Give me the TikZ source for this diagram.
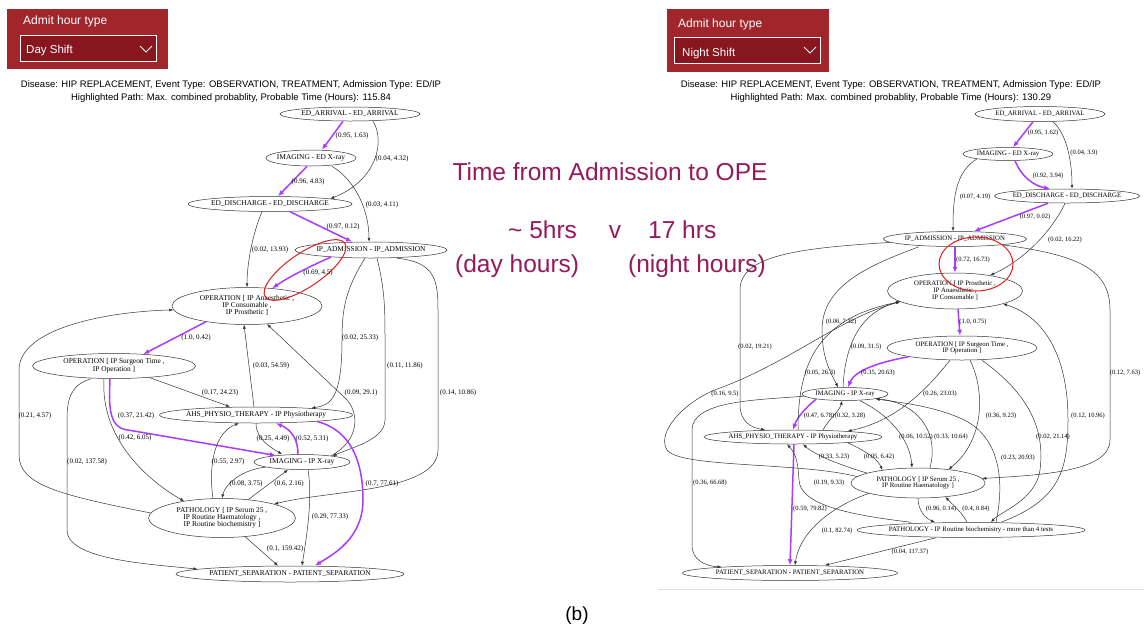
\documentclass[tikz,border=0pt]{standalone}
\usepackage{fontspec}
\setmainfont{Liberation Serif}
\setsansfont{Liberation Sans}
\usetikzlibrary{arrows.meta,shapes.geometric}
\definecolor{purp}{RGB}{170,60,255}
\definecolor{hdr}{RGB}{160,38,44}
\definecolor{hdrin}{RGB}{135,22,30}
\definecolor{mag}{RGB}{150,25,90}
\definecolor{ring}{RGB}{225,30,30}
\newcommand\gfl{\fontsize{7.4}{8}\selectfont}
\newcommand\gfr{\fontsize{6.8}{7.4}\selectfont}
\newcommand\lfl{\fontsize{7}{8}\selectfont}
\newcommand\lfr{\fontsize{6.5}{7}\selectfont}
\newcommand\nt[1]{\makebox[0pt]{\begin{tabular}{@{}c@{}}#1\end{tabular}}}
\renewcommand{\arraystretch}{0.85}
\begin{document}
\begin{tikzpicture}[x=1pt,y=-1pt,
 gnl/.style={ellipse, draw=black!80, line width=0.5pt, inner sep=0pt, font=\gfl, fill=white},
 gnr/.style={ellipse, draw=black!80, line width=0.5pt, inner sep=0pt, font=\gfr, fill=white},
 e/.style={draw=black!80, line width=0.5pt, -{Latex[length=4pt,width=3pt]}},
 pe/.style={draw=purp, line width=1.5pt, -{Latex[length=6pt,width=5pt]}},
 labl/.style={font=\lfl, inner sep=0pt},
 labr/.style={font=\lfr, inner sep=0pt},
 hdtxt/.style={anchor=base west, inner sep=0pt, text=white, font=\sffamily\fontsize{12}{14}\selectfont},
 seltxt/.style={anchor=base west, inner sep=0pt, text=white, font=\sffamily\fontsize{11.5}{13}\selectfont},
 ttl/.style={anchor=base, inner sep=0pt, font=\sffamily\fontsize{9.5}{11}\selectfont},
 big/.style={inner sep=0pt, text=mag, font=\sffamily\fontsize{24.5}{28}\selectfont},
 redring/.style={draw=ring, line width=1pt, ellipse, inner sep=0pt}
]
\useasboundingbox (0,0) rectangle (1144,633);
\fill[white] (0,0) rectangle (1144,633);

% ---------- headers ----------
\fill[hdr] (7,9) rectangle (168,69);
\draw[white, line width=0.8pt, fill=hdrin] (20,35) rectangle (156,61);
\node[hdtxt] (hlA) at (23,24) {Admit hour type};
\node[seltxt] (hlB) at (26,53) {Day Shift};
\draw[white, line width=0.8pt] (140,46) -- (146,52) -- (152,46);

\fill[hdr] (667,9) rectangle (829,72);
\draw[white, line width=0.8pt, fill=hdrin] (674,37) rectangle (820,63);
\node[hdtxt] (hrA) at (678,27) {Admit hour type};
\node[seltxt] (hrB) at (682,56) {Night Shift};
\draw[white, line width=0.8pt] (804,47) -- (810,53) -- (816,47);

\node[ttl] (tl1) at (231,87) {Disease: HIP REPLACEMENT, Event Type: OBSERVATION, TREATMENT, Admission Type: ED/IP};
\node[ttl] (tl2) at (231,100) {Highlighted Path: Max. combined probablity, Probable Time (Hours): 115.84};
\node[ttl] (tr1) at (891,87) {Disease: HIP REPLACEMENT, Event Type: OBSERVATION, TREATMENT, Admission Type: ED/IP};
\node[ttl] (tr2) at (891,100) {Highlighted Path: Max. combined probablity, Probable Time (Hours): 130.29};

% ---------- middle text ----------
\node[big, anchor=base] (m1) at (610,180) {Time from Admission to OPE};
\node[big, anchor=base west] (m2) at (508,238) {\textasciitilde{} 5hrs};
\node[big, anchor=base] (m3) at (615,238) {v};
\node[big, anchor=base west] (m4) at (648,238) {17 hrs};
\node[big, anchor=base west] (m5) at (455,272) {(day hours)};
\node[big, anchor=base west] (m6) at (628,272) {(night hours)};
\node[anchor=base, inner sep=0pt, font=\sffamily\fontsize{19}{22}\selectfont] (cap) at (577,620) {(b)};

\draw[gray!25, line width=1pt] (658,589) -- (1144,589);

% ---------- left graph nodes ----------
\node[gnl, minimum width=140, minimum height=14] (lA) at (350,114) {\nt{ED\_ARRIVAL - ED\_ARRIVAL}};
\node[gnl, minimum width=90, minimum height=16] (lB) at (311,158) {\nt{IMAGING - ED X-ray}};
\node[gnl, minimum width=164, minimum height=15] (lC) at (270,204) {\nt{ED\_DISCHARGE - ED\_DISCHARGE}};
\node[gnl, minimum width=152, minimum height=16] (lD) at (371,250) {\nt{IP\_ADMISSION - IP\_ADMISSION}};
\node[gnl, minimum width=150, minimum height=37] (lE) at (247,306) {\nt{OPERATION [ IP Anaesthetic ,\\ IP Consumable ,\\ IP Prosthetic ]}};
\node[gnl, minimum width=163, minimum height=25] (lF) at (114,366) {\nt{OPERATION [ IP Surgeon Time ,\\ IP Operation ]}};
\node[gnl, minimum width=193, minimum height=16] (lG) at (256,415) {\nt{AHS\_PHYSIO\_THERAPY - IP Physiotherapy}};
\node[gnl, minimum width=96, minimum height=15] (lH) at (302,462) {\nt{IMAGING - IP X-ray}};
\node[gnl, minimum width=147, minimum height=39] (lI) at (222,518) {\nt{PATHOLOGY [ IP Serum 25 ,\\ IP Routine Haematology ,\\ IP Routine biochemistry ]}};
\node[gnl, minimum width=228, minimum height=16] (lJ) at (290,574) {\nt{PATIENT\_SEPARATION - PATIENT\_SEPARATION}};

% ---------- left graph edges ----------
\draw[pe] ([xshift=-7]lA.south) -- ([xshift=11]lB.north);
\draw[e] ([xshift=23]lA.south) .. controls (385,140) and (378,180) .. (lC.5);
\draw[pe] ([xshift=-4]lB.south) -- ([xshift=8]lC.north);
\draw[e] ([xshift=21]lB.south) .. controls (355,180) and (369,210) .. ([xshift=-2]lD.north);
\draw[pe] ([xshift=20]lC.south) -- ([xshift=-19]lD.north);
\draw[e] ([xshift=-8]lC.south) .. controls (252,235) and (247,265) .. (lE.north);
\draw[pe] (lD.190) .. controls (315,264) and (290,276) .. (lE.35);
\draw[pe] (lE.201) -- (lF.22);
\draw[e] (lF.342) -- ([xshift=-26]lG.north);
\draw[pe] ([xshift=-4]lF.south) .. controls (109,405) and (108,428) .. (128,430) -- (lH.166);
\draw[e] ([xshift=-10]lF.south) .. controls (100,440) and (150,482) .. (lI.156);
\draw[e] ([xshift=-23]lF.south) .. controls (70,385) and (67,400) .. (67,420) -- (67,530) .. controls (67,560) and (150,564) .. (lJ.177);
\draw[e] (lI.176) .. controls (60,495) and (19,485) .. (19,455) -- (19,370) .. controls (19,330) and (100,312) .. (lE.183);
\draw[e] ([xshift=-2]lG.north) -- ([xshift=-3]lE.south);
\draw[e] (lH.12) .. controls (360,440) and (360,412) .. (345,398) -- (lE.318);
\draw[e] ([xshift=-6]lD.south) .. controls (345,290) and (342,310) .. (342,340) .. controls (342,400) and (330,405) .. (lG.7);
\draw[e] ([xshift=6]lD.south) .. controls (385,290) and (385,310) .. (385,340) -- (385,420) .. controls (385,440) and (350,448) .. (lH.11);
\draw[e] ([xshift=26]lD.south) .. controls (435,262) and (438,280) .. (438,310) -- (438,450) .. controls (438,492) and (330,490) .. (lI.north east);
\draw[pe] (lG.354) .. controls (350,430) and (363,460) .. (363,500) .. controls (363,540) and (330,556) .. ([xshift=25]lJ.north);
\draw[pe] ([xshift=-4]lH.north) .. controls (298,440) and (292,430) .. ([xshift=20]lG.south);
\draw[e] (lG.south) .. controls (256,440) and (272,448) .. ([xshift=-20]lH.north);
\draw[e] ([xshift=-9]lI.north) .. controls (208,465) and (215,432) .. ([xshift=-17]lG.south);
\draw[e] (lH.188) .. controls (240,470) and (225,485) .. (lI.north);
\draw[e] (lI.35) -- ([xshift=-14]lH.south);
\draw[e] ([xshift=6]lH.south) .. controls (313,500) and (306,540) .. ([xshift=12]lJ.north);
\draw[e] (lI.321) -- ([xshift=-12]lJ.north);

\node[redring, minimum width=96, minimum height=34, rotate=34] (ringL) at (305,270) {};

% ---------- left labels ----------
\node[labl] (ll1) at (352,136) {(0.95, 1.63)};
\node[labl] (ll2) at (392,159) {(0.04, 4.32)};
\node[labl] (ll3) at (308,182) {(0.96, 4.83)};
\node[labl] (ll4) at (382,205) {(0.03, 4.11)};
\node[labl] (ll5) at (343,227) {(0.97, 0.12)};
\node[labl] (ll6) at (270,250) {(0.02, 13.93)};
\node[labl] (ll7) at (318,273) {(0.69, 4.5)};
\node[labl] (ll8) at (196,338) {(1.0, 0.42)};
\node[labl] (ll9) at (220,393) {(0.17, 24.23)};
\node[labl] (ll10) at (136,416) {(0.37, 21.42)};
\node[labl] (ll11) at (135,438) {(0.42, 6.05)};
\node[labl] (ll12) at (87,462) {(0.02, 137.58)};
\node[labl] (ll13) at (35,416) {(0.21, 4.57)};
\node[labl] (ll14) at (271,366) {(0.03, 54.59)};
\node[labl] (ll15) at (361,393) {(0.09, 29.1)};
\node[labl] (ll16) at (360,338) {(0.02, 25.33)};
\node[labl] (ll17) at (405,366) {(0.11, 11.86)};
\node[labl] (ll18) at (458,393) {(0.14, 10.86)};
\node[labl] (ll19) at (382,484) {(0.7, 77.61)};
\node[labl] (ll20) at (312,439) {(0.52, 5.31)};
\node[labl] (ll21) at (273,439) {(0.25, 4.49)};
\node[labl] (ll22) at (228,462) {(0.55, 2.97)};
\node[labl] (ll23) at (246,484) {(0.08, 3.75)};
\node[labl] (ll24) at (289,484) {(0.6, 2.16)};
\node[labl] (ll25) at (330,517) {(0.29, 77.33)};
\node[labl] (ll26) at (285,549) {(0.1, 159.42)};

% ---------- right graph nodes ----------
\node[gnr, minimum width=130, minimum height=15] (rA) at (1040,114) {\nt{ED\_ARRIVAL - ED\_ARRIVAL}};
\node[gnr, minimum width=90, minimum height=13] (rB) at (1008,154) {\nt{IMAGING - ED X-ray}};
\node[gnr, minimum width=145, minimum height=14] (rC) at (1067,196) {\nt{ED\_DISCHARGE - ED\_DISCHARGE}};
\node[gnr, minimum width=143, minimum height=15] (rD) at (955,239) {\nt{IP\_ADMISSION - IP\_ADMISSION}};
\node[gnr, minimum width=135, minimum height=36] (rE) at (955,291) {\nt{OPERATION [ IP Prosthetic ,\\ IP Anaesthetic ,\\ IP Consumable ]}};
\node[gnr, minimum width=150, minimum height=24] (rF) at (962,348) {\nt{OPERATION [ IP Surgeon Time ,\\ IP Operation ]}};
\node[gnr, minimum width=86, minimum height=13] (rG) at (845,394) {\nt{IMAGING - IP X-ray}};
\node[gnr, minimum width=178, minimum height=14] (rH) at (793,437) {\nt{AHS\_PHYSIO\_THERAPY - IP Physiotherapy}};
\node[gnr, minimum width=134, minimum height=30] (rI) at (918,483) {\nt{PATHOLOGY [ IP Serum 25 ,\\ IP Routine Haematology ]}};
\node[gnr, minimum width=228, minimum height=15] (rJ) at (971,530) {\nt{PATHOLOGY - IP Routine biochemistry - more than 4 tests}};
\node[gnr, minimum width=215, minimum height=15] (rK) at (790,573) {\nt{PATIENT\_SEPARATION - PATIENT\_SEPARATION}};

% ---------- right graph edges ----------
\draw[pe] ([xshift=-7]rA.south) -- ([xshift=5]rB.north);
\draw[e] ([xshift=13]rA.south) .. controls (1068,135) and (1072,165) .. ([xshift=5]rC.north);
\draw[pe] ([xshift=7]rB.south) .. controls (1022,178) and (1035,186) .. ([xshift=-17]rC.north);
\draw[e] (rB.189) .. controls (955,172) and (953,200) .. ([xshift=-2]rD.north);
\draw[pe] ([xshift=-19]rC.south) -- ([xshift=19]rD.north);
\draw[e] ([xshift=-2]rC.south) .. controls (1050,235) and (1020,262) .. (rE.24);
\draw[pe] (rD.south) -- (rE.north);
\draw[pe] ([xshift=3]rE.south) -- ([xshift=-2]rF.north);
\draw[pe] (rF.south west) .. controls (880,362) and (855,370) .. ([xshift=3]rG.north);
\draw[pe] (rG.190) .. controls (805,408) and (797,418) .. (rH.north);
\draw[pe] ([xshift=1]rH.south) -- (rK.north);
\draw[e] (rD.183) .. controls (800,248) and (740,255) .. (740,290) -- (740,405) .. controls (740,422) and (752,428) .. ([xshift=-28]rH.north);
\draw[e] ([xshift=-36]rD.south) .. controls (870,265) and (822,285) .. (822,330) .. controls (822,360) and (832,375) .. ([xshift=-7]rG.north);
\draw[e] ([xshift=5]rH.north) .. controls (798,360) and (820,318) .. (rE.191);
\draw[e] (rI.174) .. controls (800,462) and (680,468) .. (667,450) .. controls (655,430) and (690,398) .. (720,388) .. controls (790,362) and (840,318) .. (rE.191);
\draw[e] ([xshift=-2]rG.north) .. controls (845,345) and (860,312) .. (rE.191);
\draw[e] ([xshift=-12]rF.south) .. controls (930,385) and (900,420) .. (rH.6);
\draw[e] ([xshift=8]rF.south) .. controls (985,390) and (985,440) .. (rI.24);
\draw[e] ([xshift=20]rF.south) .. controls (1030,395) and (1045,430) .. (1040,470) .. controls (1036,500) and (1000,512) .. ([xshift=20]rJ.north);
\draw[e] ([xshift=30]rJ.north) .. controls (1060,500) and (1068,470) .. (1068,420) .. controls (1068,350) and (1040,315) .. (rE.345);
\draw[e] (rD.353) .. controls (1080,255) and (1110,270) .. (1110,310) -- (1110,440) .. controls (1110,472) and (1040,475) .. (rI.4);
\draw[e] ([xshift=25]rJ.north) .. controls (1005,480) and (1000,435) .. (960,418) .. controls (930,405) and (895,402) .. (rG.south east);
\draw[e] ([xshift=15]rG.south) .. controls (890,415) and (910,440) .. ([xshift=-6]rI.north);
\draw[e] ([xshift=12]rI.north) .. controls (940,430) and (915,402) .. (rG.south east);
\draw[e] ([xshift=30]rH.north) .. controls (830,418) and (840,410) .. ([xshift=-3]rG.south);
\draw[e] (rI.169) .. controls (840,465) and (815,455) .. ([xshift=10]rH.south);
\draw[e] (rH.354) .. controls (868,452) and (878,460) .. (rI.160);
\draw[e] ([xshift=-60]rJ.north) .. controls (850,515) and (800,505) .. (799,480) .. controls (798,465) and (797,455) .. ([xshift=-6]rH.south);
\draw[e] (rG.183) .. controls (760,400) and (692,400) .. (692,430) -- (692,545) .. controls (692,560) and (705,566) .. (rK.175);
\draw[e] (rI.192) .. controls (835,505) and (800,530) .. ([xshift=5]rK.north);
\draw[e] ([xshift=-35]rJ.south) -- ([xshift=35]rK.north);
\draw[e] (rI.south) .. controls (918,510) and (925,518) .. ([xshift=-36]rJ.north);
\draw[e] ([xshift=-4]rJ.north) .. controls (962,512) and (950,502) .. (rI.333);

\node[redring, minimum width=74, minimum height=54] (ringR) at (976,264) {};

% ---------- right labels ----------
\node[labr] (rl1) at (1043,133) {(0.95, 1.62)};
\node[labr] (rl2) at (1084,153) {(0.04, 3.9)};
\node[labr] (rl3) at (1048,176) {(0.92, 3.94)};
\node[labr] (rl4) at (975,197) {(0.07, 4.19)};
\node[labr] (rl5) at (1035,217) {(0.97, 0.02)};
\node[labr] (rl6) at (1065,240) {(0.02, 16.22)};
\node[labr] (rl7) at (973,260) {(0.72, 16.73)};
\node[labr] (rl8) at (973,322) {(1.0, 0.75)};
\node[labr] (rl9) at (878,373) {(0.35, 20.63)};
\node[labr] (rl10) at (819,416) {(0.47, 6.78)};
\node[labr] (rl11) at (810,509) {(0.59, 79.82)};
\node[labr] (rl12) at (755,347) {(0.02, 19.21)};
\node[labr] (rl13) at (820,373) {(0.05, 26.3)};
\node[labr] (rl14) at (841,322) {(0.06, 7.32)};
\node[labr] (rl15) at (725,394) {(0.16, 9.5)};
\node[labr] (rl16) at (866,347) {(0.09, 31.5)};
\node[labr] (rl17) at (940,394) {(0.26, 23.03)};
\node[labr] (rl18) at (1001,416) {(0.36, 9.23)};
\node[labr] (rl19) at (1053,437) {(0.02, 21.14)};
\node[labr] (rl20) at (1088,416) {(0.12, 10.96)};
\node[labr] (rl21) at (1125,373) {(0.12, 7.63)};
\node[labr] (rl22) at (1018,458) {(0.23, 20.93)};
\node[labr] (rl23) at (916,437) {(0.06, 10.52)};
\node[labr] (rl24) at (951,437) {(0.33, 10.64)};
\node[labr] (rl25) at (850,416) {(0.32, 3.28)};
\node[labr] (rl26) at (834,457) {(0.33, 5.23)};
\node[labr] (rl27) at (879,457) {(0.05, 6.42)};
\node[labr] (rl28) at (829,483) {(0.19, 9.33)};
\node[labr] (rl29) at (710,483) {(0.36, 66.68)};
\node[labr] (rl30) at (837,531) {(0.1, 82.74)};
\node[labr] (rl31) at (910,552) {(0.04, 117.37)};
\node[labr] (rl32) at (941,509) {(0.96, 0.14)};
\node[labr] (rl33) at (976,509) {(0.4, 0.84)};
\end{tikzpicture}
\end{document}
